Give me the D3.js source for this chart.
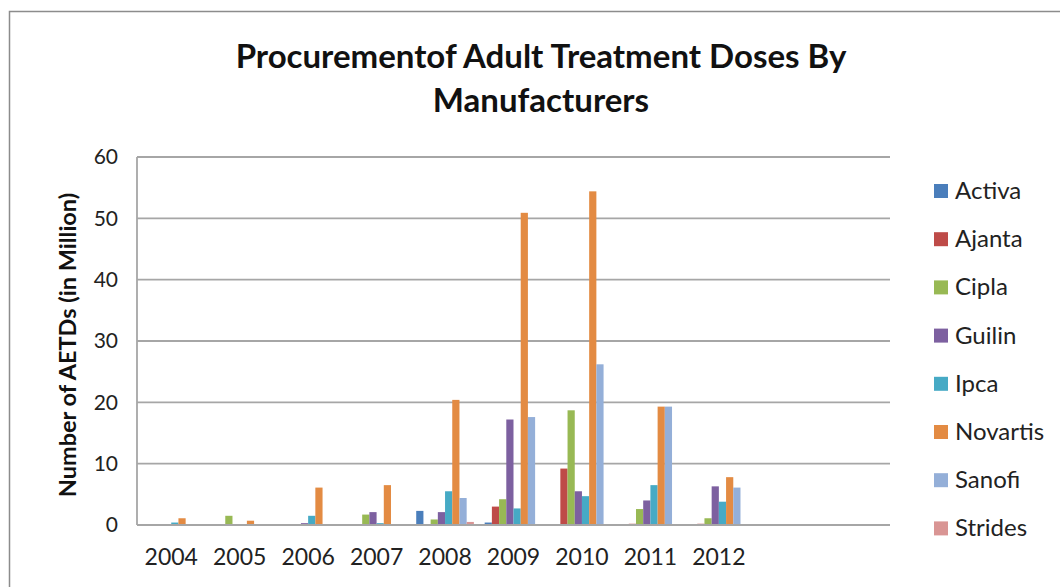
<!DOCTYPE html>
<html>
<head>
<meta charset="utf-8">
<script src="https://cdn.jsdelivr.net/npm/d3@7"></script>
<style>
  body { margin: 0; background: #fff; }
  svg { font-family: Lato, "Open Sans", sans-serif; }
</style>
</head>
<body>
<svg id="chart" width="1060" height="587"></svg>
<script>
// Procurement of AETDs by manufacturer, millions

const years = ['2004', '2005', '2006', '2007', '2008', '2009', '2010', '2011', '2012', '', ' ']
const manufacturers = ['Activa', 'Ajanta', 'Cipla', 'Guilin', 'Ipca', 'Novartis', 'Sanofi', 'Strides']
const colors = ['#4A7EBB', '#BE4B48', '#98B954', '#7D60A0', '#46AAC5', '#E38B43', '#94AFD8', '#D99594']

const activa = [0, 0, 0, 0, 2.3, 0.4, 0, 0, 0]
const ajanta = [0, 0, 0, 0, 0, 3.0, 9.2, 0.2, 0.2]
const cipla = [0, 1.5, 0, 1.7, 0.9, 4.2, 18.7, 2.6, 1.1]
const guilin = [0, 0, 0.3, 2.1, 2.1, 17.2, 5.5, 4.0, 6.3]
const ipca = [0.4, 0, 1.5, 0.3, 5.5, 2.7, 4.7, 6.5, 3.8]
const novartis = [1.1, 0.7, 6.1, 6.5, 20.4, 50.9, 54.4, 19.3, 7.8]
const sanofi = [0, 0, 0, 0, 4.4, 17.6, 26.2, 19.3, 6.1]
const strides = [0, 0, 0, 0, 0.5, 0, 0, 0, 0]

const yTicks = [0, 10, 20, 30, 40, 50, 60]

const seriesValues = [activa, ajanta, cipla, guilin, ipca, novartis, sanofi, strides]

const svg = d3.select('#chart')

let plot = { left: 137, right: 890, top: 157, bottom: 525 }

// Outer chart border
svg.append('rect')
  .attr('x', 9.5)
  .attr('y', 11.5)
  .attr('width', 1070)
  .attr('height', 600)
  .attr('fill', 'none')
  .attr('stroke', '#8c8c8c')
  .attr('stroke-width', 1.5)

// Scales
let x = d3.scaleBand()
  .domain(years)
  .range([plot.left, plot.right])

let xInner = d3.scaleBand()
  .domain(manufacturers)
  .range([0, x.bandwidth()])
  .paddingInner(0)
  .paddingOuter(0.75)

let y = d3.scaleLinear()
  .domain([0, 60])
  .range([plot.bottom, plot.top])

// Gridlines
svg.append('g')
  .selectAll('line')
  .data(yTicks.filter(d => d > 0))
  .join('line')
  .attr('x1', plot.left)
  .attr('x2', plot.right)
  .attr('y1', d => y(d))
  .attr('y2', d => y(d))
  .attr('stroke', '#a6a6a6')
  .attr('stroke-width', 1.8)

// Bars
manufacturers.forEach((m, i) => {
  svg.append('g')
    .selectAll('rect')
    .data(seriesValues[i].map((v, j) => ({ year: years[j], value: v })).filter(d => d.value > 0))
    .join('rect')
    .attr('x', d => x(d.year) + xInner(m))
    .attr('y', d => y(d.value))
    .attr('width', xInner.bandwidth())
    .attr('height', d => y(0) - y(d.value))
    .attr('fill', colors[i])
})

// Axes lines
svg.append('line')
  .attr('x1', plot.left).attr('x2', plot.left)
  .attr('y1', plot.top).attr('y2', plot.bottom)
  .attr('stroke', '#a6a6a6').attr('stroke-width', 1.8)
svg.append('line')
  .attr('x1', plot.left).attr('x2', plot.right)
  .attr('y1', plot.bottom).attr('y2', plot.bottom)
  .attr('stroke', '#a6a6a6').attr('stroke-width', 1.8)

// Y tick labels
let yAxis = d3.axisLeft(y)
  .tickValues(yTicks)
  .tickSize(0)
  .tickPadding(19)

let yG = svg.append('g')
  .attr('transform', 'translate(' + plot.left + ',0)')
  .call(yAxis)
yG.select('.domain').remove()
yG.selectAll('text')
  .attr('font-size', 21)
  .attr('font-family', 'Lato, sans-serif')
  .attr('fill', '#222')

// X tick labels
let xAxis = d3.axisBottom(x)
  .tickSize(0)
  .tickPadding(24)

let xG = svg.append('g')
  .attr('transform', 'translate(0,' + plot.bottom + ')')
  .call(xAxis)
xG.select('.domain').remove()
xG.selectAll('text')
  .attr('font-size', 23)
  .attr('font-family', 'Lato, sans-serif')
  .attr('fill', '#222')

// Title
let title = svg.append('text')
  .attr('text-anchor', 'middle')
  .attr('font-size', 33)
  .attr('font-weight', 'bold')
  .attr('fill', '#111')
title.append('tspan').attr('x', 541).attr('y', 68).text('Procurementof Adult Treatment Doses By')
title.append('tspan').attr('x', 541).attr('y', 112).text('Manufacturers')

// Y axis title
svg.append('text')
  .attr('transform', 'translate(76,345) rotate(-90)')
  .attr('text-anchor', 'middle')
  .attr('font-size', 23.5)
  .attr('font-weight', 'bold')
  .attr('fill', '#111')
  .text('Number of AETDs (in Million)')

// Legend
let legend = svg.append('g')
  .attr('transform', 'translate(934,191)')

manufacturers.forEach((m, i) => {
  let row = legend.append('g')
    .attr('transform', 'translate(0,' + i * 48.2 + ')')
  row.append('rect')
    .attr('x', 0)
    .attr('y', -7)
    .attr('width', 14)
    .attr('height', 14)
    .attr('fill', colors[i])
  row.append('text')
    .attr('x', 21)
    .attr('y', 8)
    .attr('font-size', 24)
    .attr('fill', '#222')
    .text(m)
})
</script>
</body>
</html>
